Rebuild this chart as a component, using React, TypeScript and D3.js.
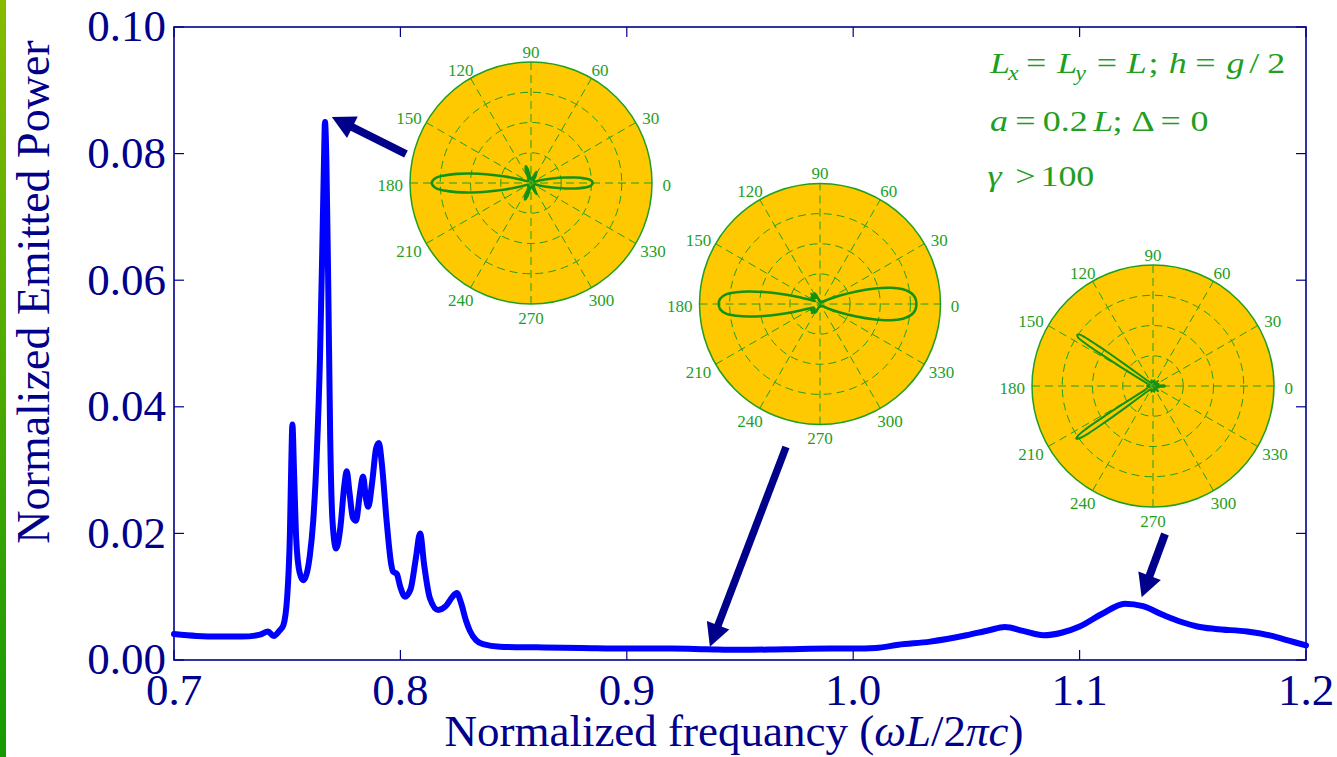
import React from "react";
import * as d3 from "d3";

const WIDTH = 1337;
const HEIGHT = 757;
const PLOT = { left: 174, right: 1306, top: 27, bottom: 660 };

// Emission spectrum: normalized frequency (ωL/2πc) and normalized emitted power
const frequency = [
  0.7, 0.71, 0.72, 0.73, 0.738, 0.7415, 0.744, 0.7465, 0.7483, 0.75, 0.7512, 0.7518,
  0.7523, 0.753, 0.754, 0.7555, 0.7571, 0.7585, 0.76, 0.7615, 0.763, 0.7645, 0.7655,
  0.7662, 0.7667, 0.7673, 0.7681, 0.769, 0.77, 0.7716, 0.7735, 0.7752, 0.7763, 0.7775,
  0.779, 0.7804, 0.782, 0.7835, 0.7848, 0.7858, 0.7875, 0.7893, 0.7905, 0.7918, 0.7939,
  0.796, 0.7967, 0.7984, 0.8, 0.802, 0.8045, 0.8068, 0.8087, 0.8105, 0.813, 0.8167, 0.82,
  0.823, 0.8249, 0.8268, 0.829, 0.8307, 0.8335, 0.8365, 0.844, 0.86, 0.88, 0.9, 0.92,
  0.935, 0.95, 0.97, 0.99, 1.0, 1.01, 1.02, 1.034, 1.05, 1.06, 1.067, 1.075, 1.084, 1.092,
  1.1, 1.11, 1.12, 1.128, 1.137, 1.145, 1.152, 1.16, 1.174, 1.185, 1.192, 1.2,
];
const emittedPower = [
  0.0041, 0.0038, 0.0037, 0.0037, 0.004, 0.0045, 0.0038, 0.0046, 0.0055, 0.01, 0.02, 0.031,
  0.0372, 0.03, 0.019, 0.0138, 0.0126, 0.0135, 0.0165, 0.022, 0.032, 0.048, 0.065,
  0.078, 0.085, 0.079, 0.06, 0.035, 0.022, 0.0176, 0.021, 0.0275, 0.0298, 0.0265,
  0.0225, 0.022, 0.026, 0.029, 0.0255, 0.0242, 0.028, 0.0335, 0.0343, 0.031, 0.022,
  0.015, 0.014, 0.0136, 0.0115, 0.01, 0.0112, 0.016, 0.02, 0.015, 0.0098, 0.0079, 0.0085,
  0.01, 0.0106, 0.009, 0.0062, 0.0046, 0.0031, 0.0025, 0.0021, 0.002, 0.0019, 0.0018, 0.0018,
  0.0017, 0.0016, 0.0017, 0.0018, 0.0018, 0.0019, 0.0024, 0.0029, 0.0039, 0.0047, 0.0052,
  0.0046, 0.0039, 0.0043, 0.0053, 0.0073, 0.0089, 0.0085, 0.0071, 0.006, 0.0053, 0.0049,
  0.0045, 0.0038, 0.0031, 0.0023,
];

const xTickValues = [0.7, 0.8, 0.9, 1.0, 1.1, 1.2];
const yTickValues = [0, 0.02, 0.04, 0.06, 0.08, 0.1];
const polarAngles = [0, 30, 60, 90, 120, 150, 180, 210, 240, 270, 300, 330];
const polarRings = [0.25, 0.5, 0.75];

// Radiation patterns as [angle in degrees, normalized radius]
const patternMainPeak: [number, number][] = [
  [0, 0.51], [3, 0.49], [5, 0.44], [7, 0.37], [9, 0.29], [12, 0.18], [16, 0.08], [22, 0.03],
  [45, 0.03], [58, 0.07], [64, 0.1], [68, 0.06], [80, 0.03],
  [98, 0.05], [104, 0.12], [107, 0.145], [111, 0.12], [118, 0.05],
  [135, 0.03], [155, 0.04], [162, 0.1], [166, 0.22], [169, 0.38], [171, 0.5], [173, 0.62],
  [175, 0.72], [177, 0.79], [180, 0.82], [183, 0.79], [185, 0.72], [187, 0.62], [189, 0.5],
  [191, 0.38], [194, 0.22], [198, 0.1], [205, 0.04],
  [225, 0.03], [242, 0.05], [247, 0.12], [250, 0.145], [254, 0.12], [260, 0.05],
  [280, 0.03], [292, 0.06], [296, 0.1], [300, 0.06], [315, 0.03],
  [338, 0.03], [344, 0.08], [348, 0.18], [351, 0.29], [353, 0.37], [355, 0.44], [357, 0.49],
];
const patternFlatBand: [number, number][] = [
  [0, 0.8], [4, 0.79], [7, 0.76], [10, 0.7], [13, 0.6], [16, 0.46], [19, 0.32], [23, 0.18],
  [30, 0.07], [40, 0.03], [70, 0.02], [100, 0.03], [112, 0.07], [118, 0.1], [124, 0.06],
  [130, 0.11], [136, 0.07], [142, 0.09], [150, 0.05],
  [158, 0.1], [163, 0.22], [166, 0.36], [168, 0.48], [170, 0.6], [172, 0.7], [174, 0.78],
  [177, 0.83], [180, 0.84], [183, 0.83], [186, 0.78], [188, 0.7], [190, 0.6], [192, 0.48],
  [194, 0.36], [197, 0.22], [202, 0.1],
  [208, 0.06], [215, 0.09], [222, 0.06], [228, 0.1], [236, 0.07], [242, 0.08], [250, 0.03],
  [290, 0.02], [320, 0.03], [330, 0.07], [337, 0.18], [341, 0.32], [344, 0.46], [347, 0.6],
  [350, 0.7], [353, 0.76], [356, 0.79],
];
const patternSidePeak: [number, number][] = [
  [0, 0.1], [4, 0.09], [8, 0.03], [20, 0.05], [30, 0.02], [45, 0.06], [60, 0.02], [75, 0.05],
  [90, 0.03], [105, 0.05], [120, 0.03], [134, 0.05],
  [138, 0.08], [141, 0.16], [142.5, 0.3], [143.5, 0.5], [144.2, 0.66], [145, 0.74], [146, 0.755],
  [147, 0.74], [147.8, 0.66], [148.5, 0.5], [149.5, 0.3], [151, 0.16], [154, 0.08], [158, 0.05],
  [170, 0.03], [180, 0.05], [190, 0.03], [200, 0.05],
  [206.5, 0.08], [209.5, 0.16], [211, 0.3], [212, 0.5], [212.7, 0.66], [213.5, 0.74], [214.5, 0.77],
  [215.5, 0.74], [216.3, 0.66], [217, 0.5], [218, 0.3], [219.5, 0.16], [222.5, 0.08], [226.5, 0.05],
  [240, 0.03], [255, 0.05], [270, 0.03], [285, 0.05], [300, 0.02], [315, 0.06], [330, 0.02],
  [345, 0.05], [352, 0.03], [356, 0.09],
];

const insets = [
  { cx: 531, cy: 183, r: 121, pattern: patternMainPeak, width: 2.6 },
  { cx: 820, cy: 304, r: 120.5, pattern: patternFlatBand, width: 2.6 },
  { cx: 1153, cy: 386, r: 121, pattern: patternSidePeak, width: 2 },
];

// Arrows from each inset down to the spectral point it describes
const arrows = [
  { tail: [406, 154], freq: 0.7697, power: 0.0858, width: 8 },
  { tail: [786, 447], freq: 0.9367, power: 0.0021, width: 7.5 },
  { tail: [1165, 534], freq: 1.1274, power: 0.0099, width: 8 },
];

const NAVY = "#00008b";
const GREEN = "#1f9e1f";
const PATTERN_GREEN = "#139313";
const SERIF = "'Liberation Serif', 'Times New Roman', serif";

function PolarInset({ cx, cy, r, pattern, width }: any) {
  const labelSize = 17;
  const radial = d3
    .lineRadial<[number, number]>()
    .angle((d) => Math.PI / 2 - (d[0] * Math.PI) / 180)
    .radius((d) => d[1] * r)
    .curve(d3.curveCatmullRomClosed.alpha(0.5));
  return (
    <g>
      <circle cx={cx} cy={cy} r={r} fill="#fec900" stroke={GREEN} strokeWidth={1.5} />
      {polarRings.map((k) => (
        <circle key={k} cx={cx} cy={cy} r={k * r} fill="none" stroke={GREEN} strokeWidth={1} strokeDasharray="8,5" />
      ))}
      {polarAngles.slice(0, 6).map((a) => {
        const t = (a * Math.PI) / 180;
        return (
          <line
            key={a}
            x1={cx - r * Math.cos(t)}
            y1={cy + r * Math.sin(t)}
            x2={cx + r * Math.cos(t)}
            y2={cy - r * Math.sin(t)}
            stroke={GREEN}
            strokeWidth={1}
            strokeDasharray="8,5"
          />
        );
      })}
      <path
        d={radial(pattern) || ""}
        transform={`translate(${cx},${cy})`}
        fill="none"
        stroke={PATTERN_GREEN}
        strokeWidth={width}
        strokeLinejoin="round"
      />
      {polarAngles.map((a) => {
        const t = (a * Math.PI) / 180;
        const label = String(a);
        const w = label.length * 0.5 * labelSize;
        const lx = cx + 1.1 * r * Math.cos(t) + 0.3 * w * Math.cos(t);
        const ly = cy - 1.1 * r * Math.sin(t) + 2;
        return (
          <text
            key={a}
            x={lx}
            y={ly}
            dy="0.34em"
            textAnchor="middle"
            fontFamily={SERIF}
            fontSize={labelSize}
            fill={GREEN}
          >
            {label}
          </text>
        );
      })}
    </g>
  );
}

export default function App() {
  const x = d3.scaleLinear().domain([0.7, 1.2]).range([PLOT.left, PLOT.right]);
  const y = d3.scaleLinear().domain([0, 0.1]).range([PLOT.bottom, PLOT.top]);
  const spectrum = d3
    .line<number>()
    .x((_, i) => x(frequency[i]))
    .y((d) => y(d))
    .curve(d3.curveMonotoneX);

  const tickLen = 10;
  const fmtY = d3.format(".2f");
  const fmtX = d3.format(".1f");

  return (
    <svg
      width={WIDTH}
      height={HEIGHT}
      style={{ position: "absolute", left: 0, top: 0, display: "block", background: "#fff" }}
    >
      <defs>
        <linearGradient id="sideBar" x1="0" y1="0" x2="0" y2="1">
          <stop offset="0" stopColor="#86bb00" />
          <stop offset="1" stopColor="#149a00" />
        </linearGradient>
      </defs>
      <rect x={0} y={0} width={WIDTH} height={HEIGHT} fill="#fff" />
      <rect x={0} y={0} width={6} height={HEIGHT} fill="url(#sideBar)" />

      {/* axes box with inward ticks on all four sides */}
      <rect
        x={PLOT.left}
        y={PLOT.top}
        width={PLOT.right - PLOT.left}
        height={PLOT.bottom - PLOT.top}
        fill="none"
        stroke={NAVY}
        strokeWidth={1.6}
      />
      {xTickValues.map((v) => (
        <g key={"x" + v}>
          <line x1={x(v)} x2={x(v)} y1={PLOT.bottom} y2={PLOT.bottom - tickLen} stroke={NAVY} strokeWidth={1.2} />
          <line x1={x(v)} x2={x(v)} y1={PLOT.top} y2={PLOT.top + tickLen} stroke={NAVY} strokeWidth={1.2} />
          <text x={x(v)} y={705} textAnchor="middle" fontFamily={SERIF} fontSize={45} fill={NAVY}>
            {fmtX(v)}
          </text>
        </g>
      ))}
      {yTickValues.map((v) => (
        <g key={"y" + v}>
          <line x1={PLOT.left} x2={PLOT.left + tickLen} y1={y(v)} y2={y(v)} stroke={NAVY} strokeWidth={1.2} />
          <line x1={PLOT.right} x2={PLOT.right - tickLen} y1={y(v)} y2={y(v)} stroke={NAVY} strokeWidth={1.2} />
          <text x={166} y={y(v)} dy="0.32em" textAnchor="end" fontFamily={SERIF} fontSize={45} fill={NAVY}>
            {fmtY(v)}
          </text>
        </g>
      ))}

      <text
        transform="translate(49,292) rotate(-90)"
        textAnchor="middle"
        fontFamily={SERIF}
        fontSize={46}
        fill={NAVY}
      >
        Normalized Emitted Power
      </text>
      <text x={734} y={746} textAnchor="middle" fontFamily={SERIF} fontSize={45} fill={NAVY}>
        Normalized frequancy (<tspan fontStyle="italic">ωL</tspan>/2<tspan fontStyle="italic">πc</tspan>)
      </text>

      <path
        d={spectrum(emittedPower) || ""}
        fill="none"
        stroke="#0000ff"
        strokeWidth={6}
        strokeLinejoin="round"
        strokeLinecap="round"
      />

      {insets.map((p, i) => (
        <PolarInset key={i} {...p} />
      ))}

      {arrows.map((a, i) => {
        const tx = x(a.freq);
        const ty = y(a.power);
        const [sx, sy] = a.tail;
        const len = Math.hypot(tx - sx, ty - sy);
        const ux = (tx - sx) / len;
        const uy = (ty - sy) / len;
        const headLen = 23;
        const half = 12;
        const bx = tx - ux * headLen;
        const by = ty - uy * headLen;
        return (
          <g key={i} fill={NAVY}>
            <line x1={sx} y1={sy} x2={bx + ux} y2={by + uy} stroke={NAVY} strokeWidth={a.width} />
            <polygon
              points={`${tx},${ty} ${bx - uy * half},${by + ux * half} ${bx + uy * half},${by - ux * half}`}
            />
          </g>
        );
      })}

      {/* simulation parameters */}
      <g transform="translate(990,0) scale(1.2,1)" fontFamily={SERIF} fontSize={30} fill={GREEN}>
        <text y={73}>
          <tspan x={0} fontStyle="italic">L</tspan>
          <tspan x={15} dy={7} fontSize={20} fontStyle="italic">x</tspan>
          <tspan x={30} dy={-7}>=</tspan>
          <tspan x={56} fontStyle="italic">L</tspan>
          <tspan x={71} dy={7} fontSize={20} fontStyle="italic">y</tspan>
          <tspan x={89} dy={-7}>=</tspan>
          <tspan x={114} fontStyle="italic">L</tspan>
          <tspan x={132}>;</tspan>
          <tspan x={149} fontStyle="italic">h</tspan>
          <tspan x={171}>=</tspan>
          <tspan x={197} fontStyle="italic">g</tspan>
          <tspan x={216}>/</tspan>
          <tspan x={231}>2</tspan>
        </text>
        <text y={131.5}>
          <tspan x={0} fontStyle="italic">a</tspan>
          <tspan x={21}>=</tspan>
          <tspan x={44}>0.2</tspan>
          <tspan x={86} fontStyle="italic">L</tspan>
          <tspan x={102}>;</tspan>
          <tspan x={118}>Δ</tspan>
          <tspan x={142}>=</tspan>
          <tspan x={167}>0</tspan>
        </text>
        <text y={186}>
          <tspan x={-2} fontStyle="italic">γ</tspan>
          <tspan x={21}>&gt;</tspan>
          <tspan x={42}>100</tspan>
        </text>
      </g>
    </svg>
  );
}
